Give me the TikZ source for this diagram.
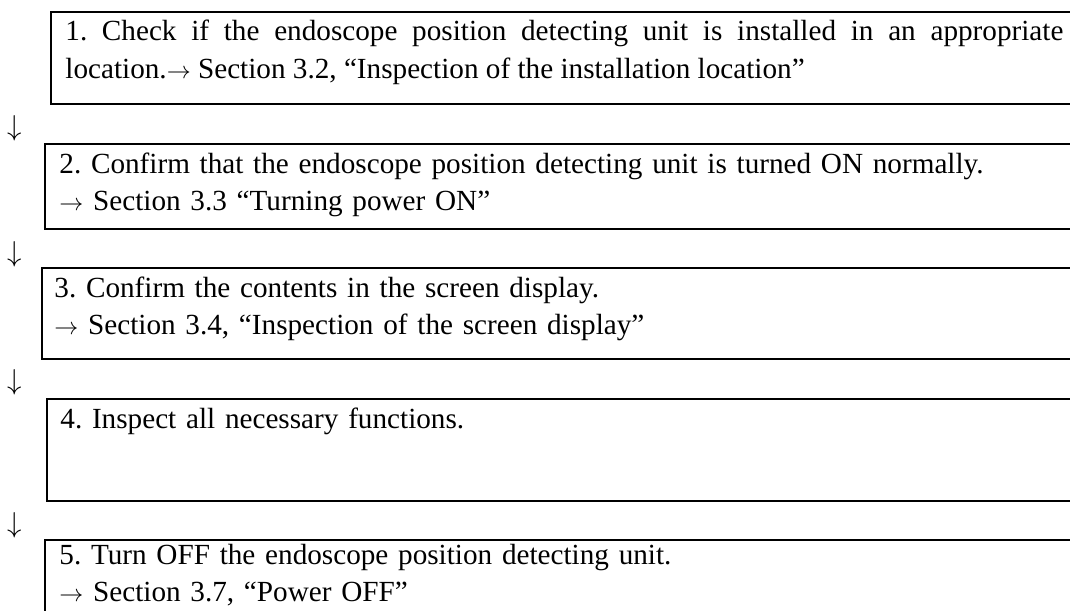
\documentclass[tikz,border=0pt]{standalone}
\usepackage{fontspec}
\setmainfont{Liberation Serif}
\usetikzlibrary{positioning}
\frenchspacing
\newcommand{\toarr}{\mbox{\fontsize{12}{12}\selectfont$\rightarrow$}}

\begin{document}
\begin{tikzpicture}[
  x=0.5pt, y=-0.5pt,
  every node/.style={font=\fontsize{14.6}{18.8}\selectfont},
  stepbox/.style={rectangle, draw, line width=1pt, anchor=north west, minimum width=530pt, inner sep=0pt},
  steptext/.style={anchor=base west, inner sep=0pt, text width=499pt, align=left},
  down/.style={inner sep=0pt, font=\fontsize{14.4}{14.4}\selectfont},
]
  \useasboundingbox (0,0) rectangle (1070,610);
  \clip (0,0) rectangle (1070,610);

  \node[stepbox, minimum height=46pt] (s1) at (50,11) {};
  \node[stepbox, minimum height=42.5pt] (s2) at (44,143) {};
  \node[stepbox, minimum height=45.5pt] (s3) at (41,267) {};
  \node[stepbox, minimum height=51pt] (s4) at (46,398) {};
  \node[stepbox, minimum height=45pt] (s5) at (44,539) {};

  \node[steptext, align=justify] (t1) at ([shift={(15,30)}]s1.north west)
    {1. Check if the endoscope position detecting unit is installed in an appropriate\linebreak
     location.\toarr{} Section 3.2, “Inspection of the installation location”};
  \node[steptext] (t2) at ([shift={(15,30)}]s2.north west)
    {2. Confirm that the endoscope position detecting unit is turned ON normally.\\
     \toarr{} Section 3.3 “Turning power ON”};
  \node[steptext] (t3) at ([shift={(13,30)}]s3.north west)
    {3. Confirm the contents in the screen display.\\
     \toarr{} Section 3.4, “Inspection of the screen display”};
  \node[steptext] (t4) at ([shift={(14,30)}]s4.north west)
    {4. Inspect all necessary functions.};
  \node[steptext] (t5) at ([shift={(15,25)}]s5.north west)
    {5. Turn OFF the endoscope position detecting unit.\\
     \toarr{} Section 3.7, “Power OFF”};

  \node[down] (d1) at (15,128) {$\downarrow$};
  \node[down] (d2) at (15,254) {$\downarrow$};
  \node[down] (d3) at (15,382) {$\downarrow$};
  \node[down] (d4) at (15,525) {$\downarrow$};
\end{tikzpicture}
\end{document}
